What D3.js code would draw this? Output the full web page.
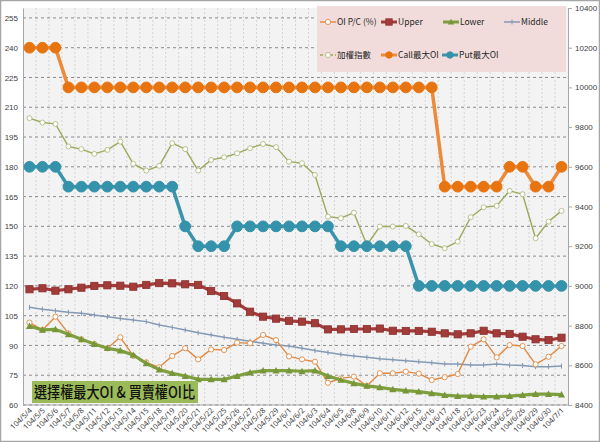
<!DOCTYPE html>
<html>
<head>
<meta charset="utf-8">
<script src="https://cdn.jsdelivr.net/npm/d3@7"></script>
<style>
  body { margin: 0; background: #fff; }
  svg { display: block; font-family: "Noto Sans", "Noto Sans CJK TC", sans-serif; }
</style>
</head>
<body>
<div id="chart"></div>
<script>
// data
const dates = ["104/5/4","104/5/5","104/5/6","104/5/7","104/5/8","104/5/11","104/5/12","104/5/13","104/5/14","104/5/15",
  "104/5/18","104/5/19","104/5/20","104/5/21","104/5/22","104/5/25","104/5/26","104/5/27","104/5/28","104/5/29",
  "104/6/1","104/6/2","104/6/3","104/6/4","104/6/5","104/6/8","104/6/9","104/6/10","104/6/11","104/6/12",
  "104/6/15","104/6/16","104/6/17","104/6/18","104/6/22","104/6/23","104/6/24","104/6/25","104/6/26","104/6/29",
  "104/6/30","104/7/1"];

const oiPC = [101.5,97.8,104.5,96.1,93.1,90.7,88.6,94.1,84.7,81.5,
  79,84.7,88.6,83,88,87.7,91.4,91.1,95.3,92.7,
  84.5,83,81.8,71.2,73.4,74.3,69.6,76,76,76.8,
  75.8,72.6,74,75.6,89.4,93.1,84,90.2,89.7,80.5,
  84.3,89.7];
const upper = [118.3,118.8,117.6,118.3,119.1,120,120.3,120.1,119.6,120.5,
  121.4,121.3,120.8,120.5,117.4,114.9,111.2,107,104.5,103.5,
  102.4,102,101.2,98.1,98.1,98.3,98.3,98.5,97.4,97.3,
  97.3,96.9,96.1,95.6,96.1,97.4,96.1,95.8,94.4,93.1,
  92.7,93.9];
const lower = [99.8,97.8,98.1,95.6,93.1,90.7,88.6,87.4,85.2,81,
  77.8,76,74.6,72.9,72.9,72.9,74.6,76.3,77.3,77.3,
  77.3,77,77.3,74.6,72.6,70.9,69.6,68.9,67.9,67.2,
  66.7,65.9,65,64.5,64.5,64.2,64.2,64.5,65,65.5,
  65.5,65.2];
const middle = [109.2,108.2,107.5,106.7,106.2,105.3,104.5,103.6,102.8,102,
  100.3,99.1,97.8,96.4,95.3,94.1,93.1,92.1,91.1,90.2,
  89.7,88.6,87.4,86.4,85.5,84.7,84,83.3,82.8,82.3,
  81.8,81.3,80.7,80.6,80.2,80.2,80.6,80.1,79.9,79.3,
  79.3,79.6];
const taiex = [9845,9823,9816,9702,9689,9665,9685,9727,9615,9581,
  9605,9719,9689,9581,9635,9648,9668,9694,9715,9699,
  9626,9618,9559,9349,9341,9369,9206,9299,9299,9302,
  9260,9211,9190,9223,9346,9396,9403,9479,9462,9240,
  9324,9378];
const callMax = [240,240,240,220,220,220,220,220,220,220,
  220,220,220,220,220,220,220,220,220,220,
  220,220,220,220,220,220,220,220,220,220,
  220,220,170,170,170,170,170,180,180,170,
  170,180];
const putMax = [180,180,180,170,170,170,170,170,170,170,
  170,170,150,140,140,140,150,150,150,150,
  150,150,150,150,140,140,140,140,140,140,
  120,120,120,120,120,120,120,120,120,120,
  120,120];

const leftTicks = d3.range(60, 256, 15);
const rightTicks = d3.range(8400, 10401, 200);

const W = 600, H = 442;
const plot = {left: 23, right: 568, top: 8, bottom: 405};

const svg = d3.select("#chart").append("svg").attr("width", W).attr("height", H);

svg.append("rect").attr("x", 0.5).attr("y", 0.5).attr("width", W - 1).attr("height", H - 1)
  .attr("fill", "#fff").attr("stroke", "#a6a6a6").attr("stroke-width", 1.5);

const x = d3.scaleBand().domain(dates).range([plot.left, plot.right]);
const cx = d => x(d) + x.bandwidth() / 2;
const yL = d3.scaleLinear().domain([60, 260]).range([plot.bottom, plot.top]);
const yR = d3.scaleLinear().domain([8400, 10400]).range([plot.bottom, plot.top]);

// plot background
svg.append("rect").attr("x", plot.left).attr("y", plot.top)
  .attr("width", plot.right - plot.left).attr("height", plot.bottom - plot.top)
  .attr("fill", "#f3f3f3");

// vertical gridlines between categories
svg.append("g").selectAll("line").data(dates.slice(1)).enter().append("line")
  .attr("x1", d => x(d)).attr("x2", d => x(d))
  .attr("y1", plot.top).attr("y2", plot.bottom)
  .attr("stroke", "#d4d4d4").attr("stroke-dasharray", "2,2");

// horizontal dashed gridlines
svg.append("g").selectAll("line").data(leftTicks).enter().append("line")
  .attr("x1", plot.left).attr("x2", plot.right)
  .attr("y1", d => yL(d)).attr("y2", d => yL(d))
  .attr("stroke", "#8c8c8c").attr("stroke-dasharray", "3,3");

// axes
const axL = svg.append("g").attr("transform", `translate(${plot.left},0)`)
  .call(d3.axisLeft(yL).tickValues(leftTicks).tickSize(0).tickPadding(5));
axL.select(".domain").attr("stroke", "#a6a6a6");
axL.selectAll("text").attr("font-size", 8).attr("fill", "#404040");

const axR = svg.append("g").attr("transform", `translate(${plot.right},0)`)
  .call(d3.axisRight(yR).tickValues(rightTicks).tickFormat(d3.format("d")).tickSize(4).tickPadding(3));
axR.select(".domain").attr("stroke", "#a6a6a6");
axR.selectAll("line").attr("stroke", "#a6a6a6");
axR.selectAll("text").attr("font-size", 8).attr("fill", "#404040");

svg.append("line").attr("x1", plot.left).attr("x2", plot.right)
  .attr("y1", plot.bottom).attr("y2", plot.bottom).attr("stroke", "#a6a6a6");

// x labels
svg.append("g").selectAll("text").data(dates).enter().append("text")
  .attr("transform", d => `translate(${cx(d) + 3},${plot.bottom + 6}) rotate(-45)`)
  .attr("text-anchor", "end").attr("font-size", 7.5).attr("fill", "#404040")
  .text(d => d);

// series drawing helper
function drawSeries(values, y, opt) {
  const pts = values.map((v, i) => [cx(dates[i]), y(v)]);
  const g = svg.append("g");
  g.append("path").attr("d", d3.line()(pts))
    .attr("fill", "none").attr("stroke", opt.color).attr("stroke-width", opt.width)
    .attr("stroke-linejoin", "round");
  drawMarkers(g, pts, opt);
}

function drawMarkers(g, pts, opt) {
  const s = opt.size;
  pts.forEach(p => {
    if (opt.marker === "circle") {
      g.append("circle").attr("cx", p[0]).attr("cy", p[1]).attr("r", s)
        .attr("fill", opt.fill).attr("stroke", opt.mstroke || opt.color).attr("stroke-width", opt.mw || 1);
    } else if (opt.marker === "square") {
      g.append("rect").attr("x", p[0] - s).attr("y", p[1] - s).attr("width", 2 * s).attr("height", 2 * s)
        .attr("fill", opt.fill).attr("stroke", opt.mstroke || opt.color).attr("stroke-width", 0.8);
    } else if (opt.marker === "triangle") {
      g.append("path").attr("d", `M${p[0]},${p[1] - s}L${p[0] + s},${p[1] + s * 0.8}L${p[0] - s},${p[1] + s * 0.8}Z`)
        .attr("fill", opt.fill);
    } else if (opt.marker === "plus") {
      g.append("line").attr("x1", p[0]).attr("x2", p[0]).attr("y1", p[1] - s).attr("y2", p[1] + s)
        .attr("stroke", opt.color).attr("stroke-width", 1);
    }
  });
}

const styles = {
  oiPC:   {color: "#e08a45", width: 1.4, marker: "circle", size: 2.6, fill: "#fff", mw: 0.9},
  upper:  {color: "#a23c3a", width: 3.2, marker: "square", size: 3.6, fill: "#a23c3a", mstroke: "#8a2f2d"},
  lower:  {color: "#7f9f3e", width: 3.2, marker: "triangle", size: 3.6, fill: "#77963a"},
  middle: {color: "#8499b4", width: 1.5, marker: "plus", size: 2.5},
  taiex:  {color: "#9aab5c", width: 1.4, marker: "circle", size: 2.5, fill: "#fff", mstroke: "#a7b676", mw: 0.8},
  call:   {color: "#ec8b3b", width: 3.5, marker: "circle", size: 5.4, fill: "#e8740f", mstroke: "#e8740f"},
  put:    {color: "#3a94ae", width: 3.5, marker: "circle", size: 5.4, fill: "#3592ab", mstroke: "#3592ab"}
};

drawSeries(middle, yL, styles.middle);
drawSeries(taiex, yR, styles.taiex);
drawSeries(oiPC, yL, styles.oiPC);
drawSeries(lower, yL, styles.lower);
drawSeries(upper, yL, styles.upper);
drawSeries(putMax, yL, styles.put);
drawSeries(callMax, yL, styles.call);

// legend
const legend = svg.append("g");
legend.append("rect").attr("x", 317).attr("y", 6).attr("width", 249).attr("height", 66)
  .attr("fill", "#f2dcdb");
const legendItems = [
  {name: "OI P/C (%)", st: styles.oiPC, x: 320, y: 22},
  {name: "Upper", st: styles.upper, x: 381, y: 22},
  {name: "Lower", st: styles.lower, x: 443, y: 22},
  {name: "Middle", st: styles.middle, x: 504, y: 22},
  {name: "加權指數", st: Object.assign({}, styles.taiex, {dash: "3,2"}), x: 320, y: 55},
  {name: "Call最大OI", st: styles.call, x: 381, y: 55},
  {name: "Put最大OI", st: styles.put, x: 442, y: 55}
];
legendItems.forEach(it => {
  const g = legend.append("g");
  g.append("line").attr("x1", it.x).attr("x2", it.x + 16).attr("y1", it.y).attr("y2", it.y)
    .attr("stroke", it.st.color).attr("stroke-width", Math.min(it.st.width, 3))
    .attr("stroke-dasharray", it.st.dash || null);
  const small = Object.assign({}, it.st, {size: Math.min(it.st.size, 3.2)});
  drawMarkers(g, [[it.x + 8, it.y]], small);
  g.append("text").attr("x", it.x + 17).attr("y", it.y + 3)
    .attr("font-size", 8.5).attr("fill", "#262626").attr("font-family", "'Noto Sans CJK TC', sans-serif")
    .text(it.name);
});

// title box
svg.append("rect").attr("x", 32).attr("y", 381).attr("width", 166).attr("height", 22).attr("fill", "#9bbb59");
svg.append("text").attr("x", 34).attr("y", 398).attr("font-size", 15.5)
  .attr("textLength", 161).attr("lengthAdjust", "spacingAndGlyphs")
  .attr("font-family", "'Noto Sans CJK TC', sans-serif").attr("font-weight", 500).attr("fill", "#111")
  .text("選擇權最大OI & 買賣權OI比");
</script>
</body>
</html>
